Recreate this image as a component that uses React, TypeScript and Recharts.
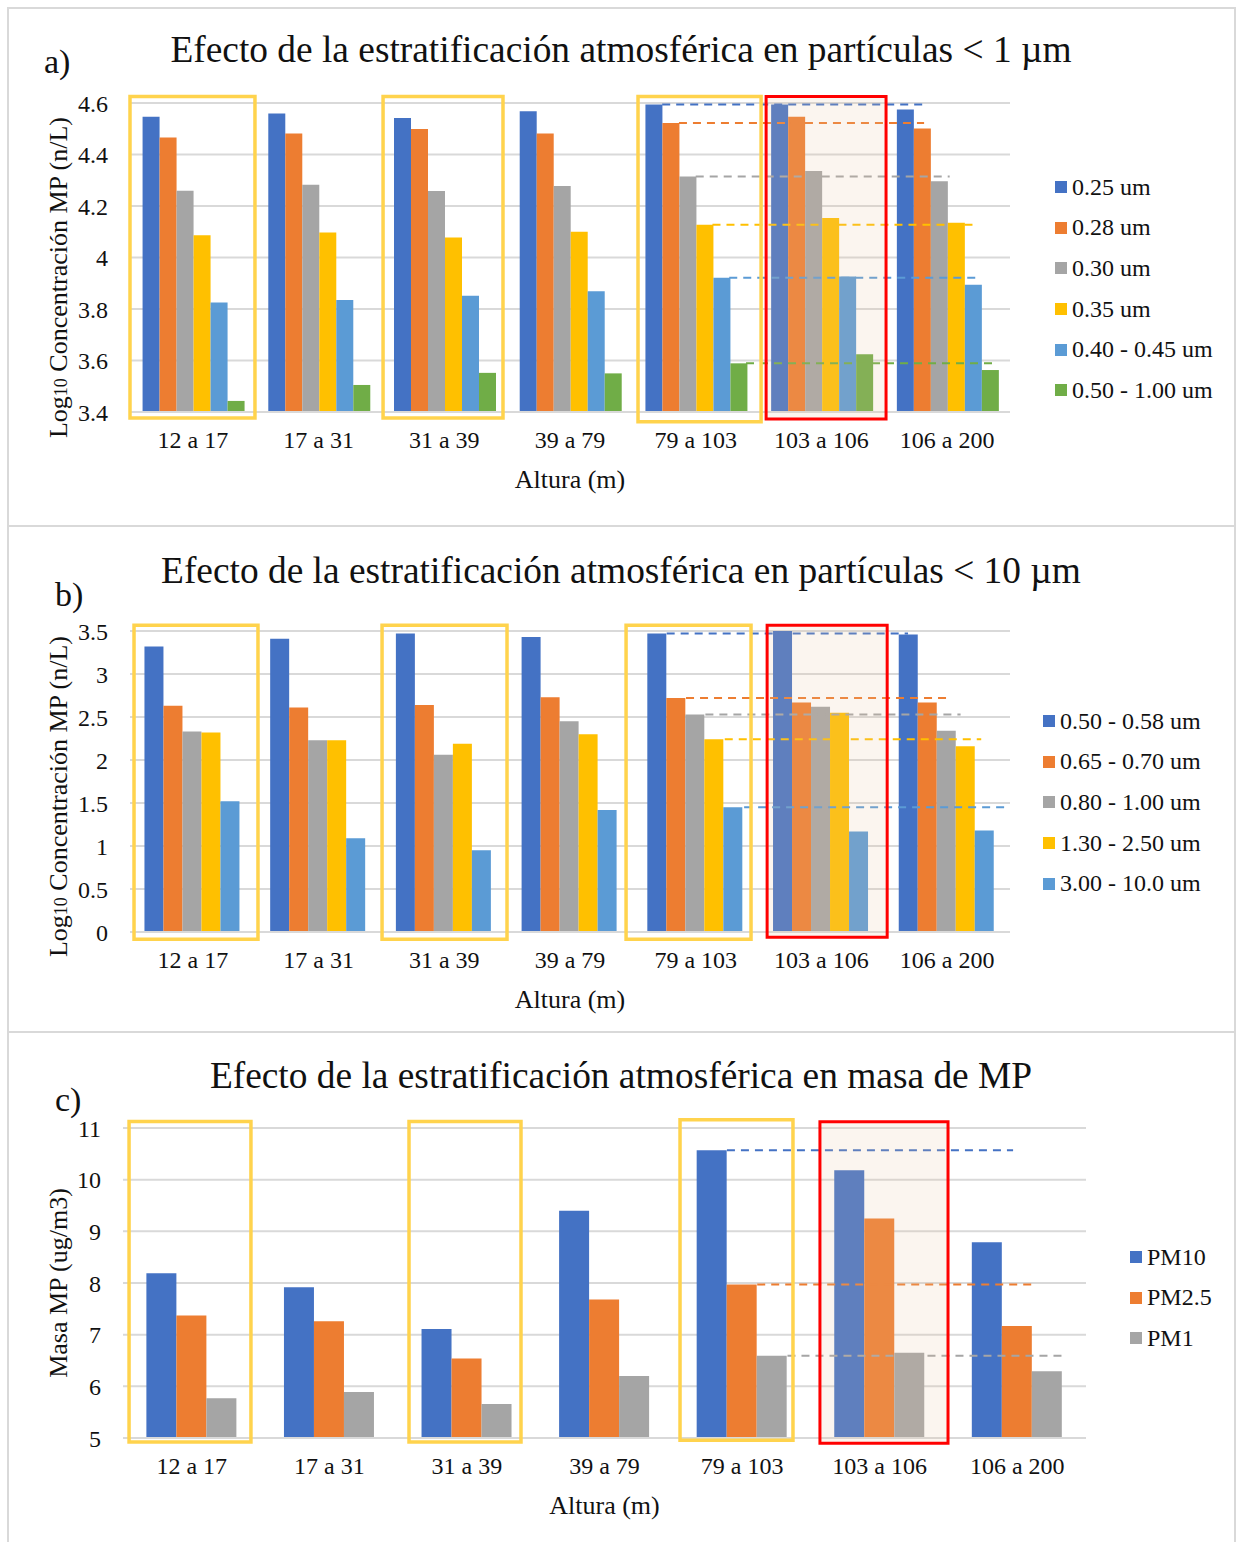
import React from 'react';
import { BarChart, Bar, XAxis, YAxis, CartesianGrid, ReferenceArea, ReferenceLine, Legend } from 'recharts';

const FONT = "'Liberation Serif', 'Times New Roman', serif";
const TXT = '#111';

// ---------- data ----------
const categories = ['12 a 17', '17 a 31', '31 a 39', '39 a 79', '79 a 103', '103 a 106', '106 a 200'];

// a) particles < 1 um (log10 n/L)
const aNames = ['0.25 um', '0.28 um', '0.30 um', '0.35 um', '0.40 - 0.45 um', '0.50 - 1.00 um'];
const a025 = [4.547, 4.559, 4.542, 4.568, 4.594, 4.594, 4.575];
const a028 = [4.466, 4.482, 4.499, 4.482, 4.522, 4.547, 4.501];
const a030 = [4.259, 4.283, 4.258, 4.278, 4.315, 4.336, 4.296];
const a035 = [4.086, 4.097, 4.078, 4.100, 4.127, 4.153, 4.135];
const a040 = [3.825, 3.835, 3.851, 3.869, 3.921, 3.926, 3.894];
const a050 = [3.443, 3.505, 3.552, 3.550, 3.589, 3.624, 3.563];
const aTicks = [3.4, 3.6, 3.8, 4, 4.2, 4.4, 4.6];

// b) particles < 10 um (log10 n/L)
const bNames = ['0.50 - 0.58 um', '0.65 - 0.70 um', '0.80 - 1.00 um', '1.30 - 2.50 um', '3.00 - 10.0 um'];
const b050 = [3.32, 3.41, 3.47, 3.43, 3.47, 3.5, 3.46];
const b065 = [2.63, 2.61, 2.64, 2.73, 2.72, 2.67, 2.67];
const b080 = [2.33, 2.23, 2.06, 2.45, 2.53, 2.62, 2.34];
const b130 = [2.32, 2.23, 2.19, 2.30, 2.24, 2.55, 2.16];
const b300 = [1.52, 1.09, 0.95, 1.42, 1.45, 1.17, 1.18];
const bTicks = [0, 0.5, 1, 1.5, 2, 2.5, 3, 3.5];

// c) mass (ug/m3)
const cNames = ['PM10', 'PM2.5', 'PM1'];
const pm10 = [8.19, 7.92, 7.11, 9.40, 10.57, 10.18, 8.79];
const pm25 = [7.37, 7.26, 6.54, 7.68, 7.97, 9.25, 7.17];
const pm1 = [5.77, 5.89, 5.66, 6.20, 6.59, 6.65, 6.29];
const cTicks = [5, 6, 7, 8, 9, 10, 11];

const C = ['#4472C4', '#ED7D31', '#A5A5A5', '#FFC000', '#5B9BD5', '#70AD47'];

type S = { name: string; values: number[]; color: string };

type PanelProps = {
  top: number;
  height: number;
  margin: { top: number; right: number; bottom: number; left: number };
  series: S[];
  domain: [number, number];
  ticks: number[];
  gapPct: number;
  yLabel: React.ReactNode;
  yShift: number;
  legendLeft: number;
  legendTop: number;
  yellow: number[][];
  red: number[];
  dashExt: number[];
  refGroup: number;
  endGroup: number;
};

const CHART_W = 1238;
const YAXIS_W = 60;

function Panel(p: PanelProps) {
  const data = categories.map((c, i) => {
    const row: any = { cat: c, idx: i };
    p.series.forEach((s, j) => { row['s' + j] = s.values[i]; });
    return row;
  });
  const n = p.series.length;
  const f = 1 - (2 * p.gapPct) / 100;
  const rightEdge = (j: number) => -f / 2 + ((j + 1) * f) / n;
  const plotW = CHART_W - p.margin.left - YAXIS_W - p.margin.right;
  const halfBand = plotW / categories.length / 2;

  const legendContent = () => (
    <div style={{ fontFamily: FONT, fontSize: 24, color: TXT }}>
      {p.series.map((s) => (
        <div key={s.name} style={{ display: 'flex', alignItems: 'center', height: 40.6, whiteSpace: 'nowrap' }}>
          <span style={{ display: 'inline-block', width: 12, height: 12, background: s.color, marginRight: 5 }} />
          <span>{s.name}</span>
        </div>
      ))}
    </div>
  );

  return (
    <div style={{ position: 'absolute', left: 0, top: p.top, width: CHART_W, height: p.height }}>
      <BarChart width={CHART_W} height={p.height} data={data} margin={p.margin} barCategoryGap={p.gapPct + '%'} barGap={0}>
        <CartesianGrid vertical={false} stroke="#D9D9D9" strokeWidth={2} />
        <XAxis
          dataKey="cat"
          interval={0}
          tickLine={false}
          tickSize={0}
          tickMargin={19}
          axisLine={{ stroke: '#D9D9D9', strokeWidth: 2 }}
          tick={{ fill: TXT, fontSize: 24, fontFamily: FONT }}
          label={{
            content: (lp: any) => {
              const vb = lp.viewBox || {};
              return (
                <text x={vb.x + vb.width / 2} y={vb.y + 76} textAnchor="middle" fontFamily={FONT} fontSize={26} fill={TXT}>
                  Altura (m)
                </text>
              );
            },
          }}
        />
        <XAxis
          xAxisId="n"
          dataKey="idx"
          type="number"
          domain={[0, categories.length - 1]}
          padding={{ left: halfBand, right: halfBand }}
          hide
          allowDataOverflow
        />
        <YAxis
          width={YAXIS_W}
          domain={p.domain}
          ticks={p.ticks}
          interval={0}
          allowDataOverflow
          axisLine={false}
          tickLine={false}
          tickSize={0}
          tickMargin={22}
          tick={{ fill: TXT, fontSize: 24, fontFamily: FONT }}
          label={{
            content: (lp: any) => {
              const vb = lp.viewBox || {};
              const cy = vb.y + vb.height / 2 + p.yShift;
              return (
                <text x={67} y={cy} transform={`rotate(-90, 67, ${cy})`} textAnchor="middle" fontFamily={FONT} fontSize={26} fill={TXT}>
                  {p.yLabel}
                </text>
              );
            },
          }}
        />
        {p.series.map((s, j) => (
          <Bar key={s.name} dataKey={'s' + j} name={s.name} fill={s.color} isAnimationActive={false} />
        ))}
        {p.series.map((s, j) => (
          <ReferenceLine
            key={'d' + j}
            xAxisId="n"
            zIndex={600}
            ifOverflow="visible"
            segment={[
              { x: p.refGroup + rightEdge(j), y: s.values[p.refGroup] },
              { x: p.endGroup + rightEdge(j) + p.dashExt[j], y: s.values[p.refGroup] },
            ]}
            stroke={s.color}
            strokeWidth={2}
            strokeDasharray="8 6"
          />
        ))}
        <ReferenceArea
          xAxisId="n"
          zIndex={700}
          x1={p.red[0]}
          x2={p.red[1]}
          y1={p.red[2]}
          y2={p.red[3]}
          ifOverflow="visible"
          fill="#E6C29E"
          fillOpacity={0.17}
          stroke="#FF0000"
          strokeWidth={3}
        />
        {p.yellow.map((b, k) => (
          <ReferenceArea
            key={'y' + k}
            xAxisId="n"
            zIndex={800}
            x1={b[0]}
            x2={b[1]}
            y1={b[2]}
            y2={b[3]}
            ifOverflow="visible"
            fill="none"
            stroke="#FFD34D"
            strokeWidth={3.5}
          />
        ))}
        <Legend
          layout="vertical"
          align="center"
          verticalAlign="middle"
          content={legendContent}
          wrapperStyle={{ left: p.legendLeft, top: p.legendTop, width: 200, height: 'auto', bottom: 'auto', right: 'auto' }}
        />
      </BarChart>
    </div>
  );
}

const logLabel = (
  <>
    <tspan>Log</tspan>
    <tspan fontSize={18}>10</tspan>
    <tspan> Concentración MP (n/L)</tspan>
  </>
);

export default function App() {
  const seriesA: S[] = [a025, a028, a030, a035, a040, a050].map((v, i) => ({ name: aNames[i], values: v, color: C[i] }));
  const seriesB: S[] = [b050, b065, b080, b130, b300].map((v, i) => ({ name: bNames[i], values: v, color: C[i] }));
  const seriesC: S[] = [pm10, pm25, pm1].map((v, i) => ({ name: cNames[i], values: v, color: C[i] }));

  const border = '2px solid #D9D9D9';
  return (
    <div style={{ position: 'absolute', left: 0, top: 0, width: 1238, height: 1542, background: '#fff', overflow: 'hidden' }}>
      <div style={{ position: 'absolute', left: 7, top: 7, width: 1229, height: 520, border, boxSizing: 'border-box' }} />
      <div style={{ position: 'absolute', left: 7, top: 525, width: 1229, height: 508, border, boxSizing: 'border-box' }} />
      <div style={{ position: 'absolute', left: 7, top: 1031, width: 1229, height: 530, border, boxSizing: 'border-box' }} />

      <Panel
        top={0}
        height={526}
        margin={{ top: 103, right: 228, bottom: 84, left: 70 }}
        series={seriesA}
        domain={[3.4, 4.6]}
        ticks={aTicks}
        gapPct={10}
        yLabel={logLabel}
        yShift={20}
        legendLeft={1055}
        legendTop={167}
        yellow={[
          [-0.5, 0.494, 3.377, 4.625],
          [1.513, 2.467, 3.377, 4.625],
          [3.541, 4.52, 3.362, 4.625],
        ]}
        red={[4.56, 5.514, 3.373, 4.625]}
        dashExt={[0.1, -0.05, 0.02, 0.08, -0.04, -0.01]}
        refGroup={4}
        endGroup={6}
      />
      <Panel
        top={526}
        height={506}
        margin={{ top: 105, right: 228, bottom: 70, left: 70 }}
        series={seriesB}
        domain={[0, 3.5]}
        ticks={bTicks}
        gapPct={11.5}
        yLabel={logLabel}
        yShift={15}
        legendLeft={1043}
        legendTop={175}
        yellow={[
          [-0.468, 0.518, -0.085, 3.567],
          [1.505, 2.499, -0.085, 3.567],
          [3.446, 4.44, -0.085, 3.567],
        ]}
        red={[4.568, 5.523, -0.062, 3.567]}
        dashExt={[-0.08, 0.08, 0.03, 0.04, 0.08]}
        refGroup={4}
        endGroup={6}
      />
      <Panel
        top={1032}
        height={510}
        margin={{ top: 96, right: 152, bottom: 74, left: 63 }}
        series={seriesC}
        domain={[5, 11]}
        ticks={cTicks}
        gapPct={17}
        yLabel={'Masa MP (ug/m3)'}
        yShift={0}
        legendLeft={1130}
        legendTop={205}
        yellow={[
          [-0.456, 0.43, 4.922, 11.128],
          [1.579, 2.393, 4.922, 11.128],
          [3.549, 4.37, 4.955, 11.16],
        ]}
        red={[4.566, 5.497, 4.897, 11.12]}
        dashExt={[0.08, 0.03, 0.02]}
        refGroup={4}
        endGroup={6}
      />

      <svg width={1238} height={1542} style={{ position: 'absolute', left: 0, top: 0, pointerEvents: 'none' }}>
        <g fontFamily={FONT} fill={TXT}>
          <text x={621} y={62} fontSize={37.4} textAnchor="middle">Efecto de la estratificación atmosférica en partículas &lt; 1 µm</text>
          <text x={44} y={73} fontSize={34}>a)</text>
          <text x={621} y={583} fontSize={37.4} textAnchor="middle">Efecto de la estratificación atmosférica en partículas &lt; 10 µm</text>
          <text x={55} y={606} fontSize={34}>b)</text>
          <text x={621} y={1088} fontSize={37.4} textAnchor="middle">Efecto de la estratificación atmosférica en masa de MP</text>
          <text x={55} y={1111} fontSize={34}>c)</text>
        </g>
      </svg>
    </div>
  );
}
